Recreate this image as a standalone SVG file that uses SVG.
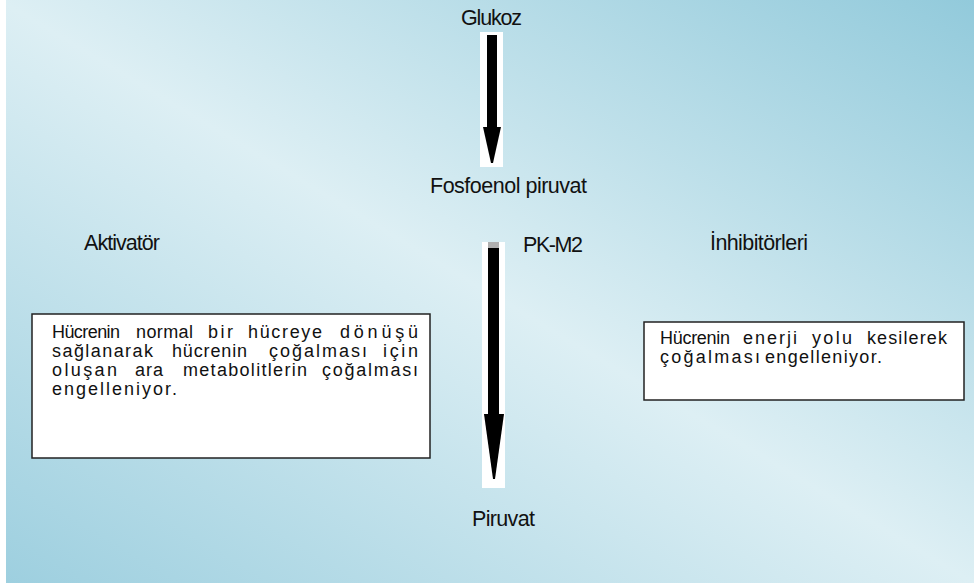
<svg xmlns="http://www.w3.org/2000/svg" width="974" height="583" viewBox="0 0 974 583">
<defs>
<linearGradient id="bg" gradientUnits="userSpaceOnUse" x1="744" y1="-138" x2="230" y2="721">
<stop offset="0" stop-color="#92cadb"/>
<stop offset="0.5" stop-color="#ddeff4"/>
<stop offset="1" stop-color="#9dcfdf"/>
</linearGradient>
<style>
.t{font-family:"Liberation Sans",Arial,sans-serif;font-size:21.5px;fill:#111}
.b{font-family:"Liberation Sans",Arial,sans-serif;font-size:18px;fill:#111}
.box{fill:#fff;stroke:#222;stroke-width:1.5}
.pad{fill:#fff}
.shaft{fill:#000}
</style>
</defs>
<rect x="0" y="0" width="974" height="583" fill="#fff"/>
<rect x="6" y="0" width="968" height="583" fill="url(#bg)"/>

<g id="connectors">
<g id="arrow-glukoz-fosfoenol">
<rect class="pad" x="480" y="32" width="23" height="135"/>
<rect class="shaft" x="487" y="35" width="10" height="95"/>
<path class="shaft" d="M483,127 L501,127 L493,163 L491,163 Z"/>
</g>
<g id="arrow-fosfoenol-piruvat">
<rect class="pad" x="482" y="242" width="23" height="246"/>
<rect x="488" y="242" width="11" height="7" fill="#b0b0b0"/>
<rect class="shaft" x="488" y="248" width="11" height="168"/>
<path class="shaft" d="M484,414 L504,414 L495,479 L493,479 Z"/>
</g>
</g>

<g id="glukoz"><text class="t" x="461" y="25" textLength="61">Glukoz</text></g>
<g id="fosfoenol"><text class="t" x="430" y="193" textLength="157">Fosfoenol piruvat</text></g>
<g id="aktivator"><text class="t" x="84" y="250" textLength="76">Aktivatör</text></g>
<g id="pkm2"><text class="t" x="523" y="252" textLength="60">PK-M2</text></g>
<g id="inhibitor"><text class="t" x="710" y="250" textLength="98">İnhibitörleri</text></g>
<g id="piruvat"><text class="t" x="472" y="526" textLength="63">Piruvat</text></g>

<g id="box-left">
<rect class="box" x="32" y="314" width="398" height="144"/>
<text class="b" x="52" y="338" textLength="68">Hücrenin</text>
<text class="b" x="136" y="338" textLength="57">normal</text>
<text class="b" x="208" y="338" textLength="25">bir</text>
<text class="b" x="248" y="338" textLength="74">hücreye</text>
<text class="b" x="340" y="338" textLength="78">dönüşü</text>
<text class="b" x="52" y="357" textLength="101">sağlanarak</text>
<text class="b" x="172" y="357" textLength="75">hücrenin</text>
<text class="b" x="269" y="357" textLength="98">çoğalması</text>
<text class="b" x="383" y="357" textLength="35">için</text>
<text class="b" x="52" y="376" textLength="65">oluşan</text>
<text class="b" x="135" y="376" textLength="28">ara</text>
<text class="b" x="183" y="376" textLength="124">metabolitlerin</text>
<text class="b" x="322" y="376" textLength="96">çoğalması</text>
<text class="b" x="52" y="395" textLength="125">engelleniyor.</text>
</g>

<g id="box-right">
<rect class="box" x="644" y="322" width="320" height="78"/>
<text class="b" x="660" y="344" textLength="70">Hücrenin</text>
<text class="b" x="743" y="344" textLength="54">enerji</text>
<text class="b" x="812" y="344" textLength="40">yolu</text>
<text class="b" x="867" y="344" textLength="80">kesilerek</text>
<text class="b" x="660" y="363" textLength="100">çoğalması</text>
<text class="b" x="765" y="363" textLength="117">engelleniyor.</text>
</g>
</svg>
